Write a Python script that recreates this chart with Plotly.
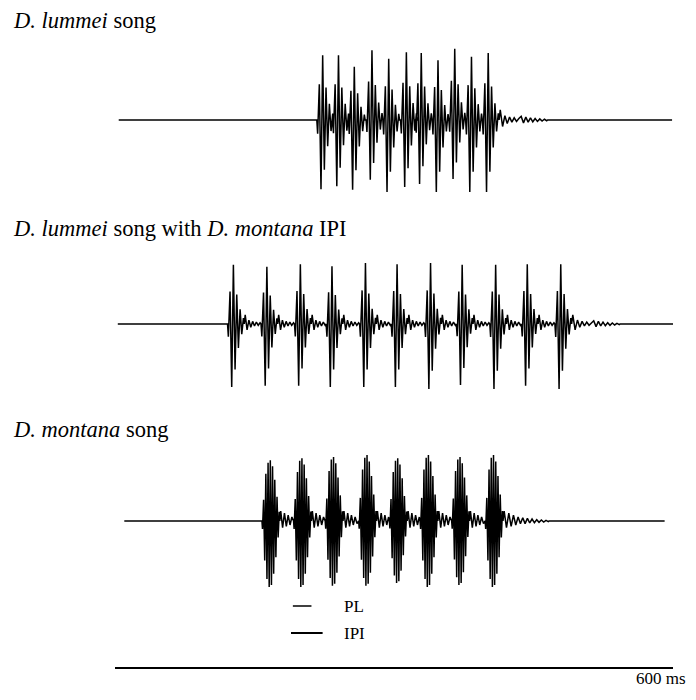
import numpy as np
import plotly.graph_objects as go

# ---------------- data (time in ms, amplitude relative to panel max) ----------------
TITLES = [
    "<i>D. lummei</i> song",
    "<i>D. lummei</i> song with <i>D. montana</i> IPI",
    "<i>D. montana</i> song",
]

RECORD_START = [4, 3, 10]
RECORD_END = [599, 600, 591]

# half-cycle peaks of one pulse
LUMMEI_PULSE = [-0.2, 0.55, -1.0, 1.0, -0.72, 0.5, -0.38, 0.25, -0.16, 0.1]
LUMMEI_HALF_PERIOD = 1.8
MONTANA_PULSE = [-0.12, 0.35, -0.6, 0.78, -0.88, 0.96, -1.0, 1.0, -0.97,
                 0.9, -0.8, 0.68, -0.55, 0.4, -0.25, 0.15]
MONTANA_HALF_PERIOD = 1.2

# low-level ringing after a pulse
LUMMEI_RING = [0.14, -0.09, 0.06, -0.05, 0.04, -0.03, 0.03, -0.02, 0.02]
LUMMEI_RING_HALF = 2.0
MONTANA_RING = [0.15, -0.1, 0.12, -0.08, 0.09, -0.06, 0.06, -0.04]
MONTANA_RING_HALF = 2.0
TAIL_RING = [0.05, -0.04, 0.04, -0.03, 0.03, -0.025, 0.02, -0.02, 0.015, -0.015, 0.01, -0.01]
TAIL_RING_HALF = 2.5

# panel 1: D. lummei song
P1_ONSETS = [217, 234, 251, 270, 288, 307, 323, 341, 359, 377, 395]
P1_POS = [0.90, 0.90, 0.74, 0.97, 0.85, 0.94, 0.93, 0.83, 0.99, 0.88, 0.93]
P1_NEG = [0.96, 0.92, 0.97, 0.83, 1.00, 0.93, 0.89, 1.00, 0.82, 1.00, 1.00]

# panel 2: D. lummei pulses with D. montana IPI
P2_ONSETS = [121, 157, 193, 227, 263, 297, 333, 367, 403, 437, 473]
P2_POS = [0.91, 0.88, 0.92, 0.89, 0.94, 0.92, 0.94, 0.91, 0.91, 0.92, 0.92]
P2_NEG = [0.97, 0.95, 0.95, 0.97, 0.97, 0.97, 1.00, 0.94, 1.00, 0.95, 1.00]

# panel 3: D. montana song
P3_ONSETS = [158, 192, 226, 262, 295, 328, 362, 398]
P3_POS = [0.92, 0.95, 0.97, 1.00, 0.95, 1.00, 0.97, 1.00]
P3_NEG = [1.00, 1.00, 0.98, 0.98, 0.94, 1.00, 0.97, 1.00]

PL_MS = 20
IPI_MS = 34
SCALE_MS = 600
SCALE_LABEL = "600 ms"

# ---------------- construction ----------------
def build(start, end, onsets, pos, neg, pulse, hp, ring, ring_hp, tail, tail_hp):
    t = [start]
    y = [0.0]
    for i, t0 in enumerate(onsets):
        nxt = onsets[i + 1] if i + 1 < len(onsets) else None
        t.append(t0); y.append(0.0)
        for k, v in enumerate(pulse):
            t.append(t0 + (k + 0.5) * hp)
            y.append(v * (pos[i] if v > 0 else neg[i]))
        tend = t0 + len(pulse) * hp
        t.append(tend); y.append(0.0)
        rr, rh = (ring, ring_hp) if nxt is not None else (ring + tail, tail_hp)
        for j, v in enumerate(rr):
            tj = tend + (j + 0.5) * rh
            if nxt is not None and tj >= nxt - 0.5:
                break
            t.append(tj); y.append(v)
    t.append(t[-1] + 1.0); y.append(0.0)
    t.append(end); y.append(0.0)
    return t, y

panels = [
    build(RECORD_START[0], RECORD_END[0], P1_ONSETS, P1_POS, P1_NEG,
          LUMMEI_PULSE, LUMMEI_HALF_PERIOD, LUMMEI_RING, LUMMEI_RING_HALF, TAIL_RING, TAIL_RING_HALF),
    build(RECORD_START[1], RECORD_END[1], P2_ONSETS, P2_POS, P2_NEG,
          LUMMEI_PULSE, LUMMEI_HALF_PERIOD, LUMMEI_RING, LUMMEI_RING_HALF, TAIL_RING, TAIL_RING_HALF),
    build(RECORD_START[2], RECORD_END[2], P3_ONSETS, P3_POS, P3_NEG,
          MONTANA_PULSE, MONTANA_HALF_PERIOD, MONTANA_RING, MONTANA_RING_HALF, TAIL_RING, TAIL_RING_HALF),
]

# ---------------- layout (page has an 8 px body margin) ----------------
PAGE_OFF = 8
W, H = 680, 680
X0_PX = 115.0 - PAGE_OFF
PX_PER_MS = 0.93
XRANGE = [-X0_PX / PX_PER_MS, (W - X0_PX) / PX_PER_MS]

BASE_PX = [120, 324, 521]
AMP_PX = [72, 65, 66]
YR = 1.1

def py(px):
    return 1 - (px - PAGE_OFF) / H

def pxx(px):
    return (px - PAGE_OFF) / W

fig = go.Figure()
axis_names = ["y", "y2", "y3"]
for i, (tt, yy) in enumerate(panels):
    fig.add_trace(go.Scatter(x=tt, y=yy, mode="lines", xaxis="x", yaxis=axis_names[i],
                             line=dict(color="black", width=1.5), hoverinfo="skip",
                             showlegend=False))

layout_axes = {}
for i in range(3):
    half = AMP_PX[i] * YR
    dom = [py(BASE_PX[i] + half), py(BASE_PX[i] - half)]
    key = "yaxis" if i == 0 else f"yaxis{i+1}"
    layout_axes[key] = dict(domain=dom, range=[-YR, YR], visible=False, fixedrange=True)

fig.update_layout(
    width=W, height=H,
    margin=dict(l=0, r=0, t=0, b=0),
    paper_bgcolor="white", plot_bgcolor="white",
    xaxis=dict(range=XRANGE, visible=False, domain=[0, 1]),
    showlegend=False,
    font=dict(family="Liberation Serif", color="black"),
    **layout_axes,
)

TITLE_PX = [20, 229, 429]
for i, txt in enumerate(TITLES):
    fig.add_annotation(text=txt, x=pxx(11), y=py(TITLE_PX[i]), xref="paper", yref="paper",
                       xanchor="left", yanchor="middle", showarrow=False,
                       font=dict(size=22.5, family="Liberation Serif", color="black"))

# PL / IPI reference bars and scale bar (x in ms)
LEG_X = (291 - 115) / PX_PER_MS
fig.add_shape(type="line", xref="x", yref="paper", x0=LEG_X + 2, x1=LEG_X + 2 + PL_MS,
              y0=py(606), y1=py(606), line=dict(color="black", width=1.5))
fig.add_shape(type="line", xref="x", yref="paper", x0=LEG_X, x1=LEG_X + IPI_MS,
              y0=py(633), y1=py(633), line=dict(color="black", width=2))
fig.add_annotation(text="PL", x=pxx(342), y=py(606), xref="paper", yref="paper",
                   xanchor="left", yanchor="middle", showarrow=False,
                   font=dict(size=17, family="Liberation Serif", color="black"))
fig.add_annotation(text="IPI", x=pxx(342), y=py(633), xref="paper", yref="paper",
                   xanchor="left", yanchor="middle", showarrow=False,
                   font=dict(size=17, family="Liberation Serif", color="black"))
fig.add_shape(type="line", xref="x", yref="paper", x0=0, x1=SCALE_MS,
              y0=py(668), y1=py(668), line=dict(color="black", width=2))
fig.add_annotation(text=SCALE_LABEL, x=pxx(688), y=py(678), xref="paper", yref="paper",
                   xanchor="right", yanchor="middle", showarrow=False,
                   font=dict(size=17, family="Liberation Serif", color="black"))

fig.write_html("out.html")
